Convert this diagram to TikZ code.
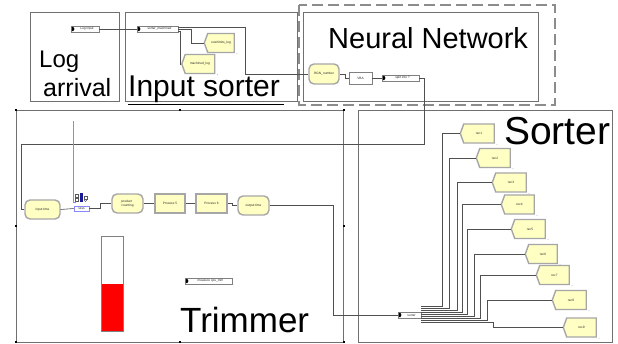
\documentclass[tikz,border=0pt]{standalone}
\usepackage{fontspec}
\setmainfont{Liberation Sans}
\usetikzlibrary{shapes.symbols}
\definecolor{modfill}{HTML}{FFFFC4}
\definecolor{modedge}{HTML}{A6A6A6}
\definecolor{wirec}{HTML}{505050}
\definecolor{framec}{HTML}{707070}
\definecolor{dashc}{HTML}{8C8C8C}
\definecolor{qblue}{HTML}{8888FF}
\definecolor{rblue}{HTML}{1A1A9A}
\tikzset{
  frame/.style={draw=framec, line width=0.7pt},
  wire/.style={draw=wirec, line width=0.6pt},
  tinytxt/.style={font=\fontsize{3.2}{3.8}\selectfont, text=black!85},
  procbox/.style={draw=modedge, fill=modfill, line width=1.4pt, minimum height=19pt, inner sep=0pt, tinytxt},
  roundbox/.style={procbox, rounded corners=5pt},
  sinkbox/.style={draw=modedge, fill=modfill, line width=1.4pt, minimum height=19pt, inner sep=0.5pt, tinytxt,
    shape=signal, signal to=west, signal from=nowhere, signal pointer angle=140},
  crbox/.style={draw=gray, fill=white, line width=0.5pt, minimum height=6pt, inner sep=0pt, tinytxt},
  plainbox/.style={draw=gray, fill=white, line width=0.5pt, inner sep=0pt, tinytxt},
  bigtxt/.style={anchor=base west, inner sep=0pt, text=black},
  handle/.style={fill=black}
}
\begin{document}
\begin{tikzpicture}[x=1pt,y=-1pt]
\useasboundingbox (0,0) rectangle (618,344);
\fill[white] (0,0) rectangle (618,344);

% frames
\draw[frame] (30,12) rectangle (119,101);
\draw[frame] (125,12) rectangle (297,101);
\draw[black, line width=0.8pt] (128,104) -- (284,104);
\draw[frame] (303,12) rectangle (538,101);
\draw[draw=dashc, line width=2.8pt, dash pattern=on 11pt off 5pt] (299,5) rectangle (555,105);
\draw[frame] (16,110) rectangle (343,342);
\draw[frame] (358,110) rectangle (612,342);

% big labels
\node[bigtxt, font=\fontsize{24}{24}\selectfont] (tlog) at (39,68) {Log};
\node[bigtxt, font=\fontsize{25}{25}\selectfont] (tarr) at (43,97) {arrival};
\node[bigtxt, font=\fontsize{30}{30}\selectfont] (tin) at (128,97) {Input sorter};
\node[bigtxt, font=\fontsize{29}{29}\selectfont] (tnn) at (328,49) {Neural Network};
\node[bigtxt, font=\fontsize{35}{35}\selectfont] (ttr) at (180,333) {Trimmer};
\node[bigtxt, font=\fontsize{39}{39}\selectfont] (tso) at (504,145) {Sorter};

% top modules
\node[crbox, minimum width=28pt] (login) at (85,29) {\hspace*{4pt}Log input\hfill};
\node[crbox, minimum width=41pt] (sm) at (157.5,29) {\hspace*{4pt}sorter\_machined};
\node[sinkbox, minimum width=30pt] (ol) at (221,43) {overlimits\_log};
\node[sinkbox, minimum width=33pt] (ml) at (200,64) {machined\_log};
\node[roundbox, minimum width=30pt, minimum height=20pt] (rgn) at (324,74) {RGN\_number};
\node[plainbox, minimum width=23pt, minimum height=12pt] (vba) at (360.5,78) {VBA};
\node[crbox, minimum width=37pt] (split) at (400.5,78) {\hspace*{4pt}split into ?};

\draw[wire] (login.east) -- (sm.west);
\draw[wire] ([yshift=2pt]sm.east) -- (245,27) |- (rgn.west);
\draw[wire] (sm.east) -- (191,29) |- (ol.west);
\draw[wire] ([yshift=-2pt]sm.east) -- (180,31) |- (ml.west);
\draw[wire] (rgn.east) -- (345,74) |- (vba.west);
\draw[wire] (vba.east) -- (split.west);

% trimmer modules
\node[roundbox, minimum width=35pt] (intime) at (42.5,209.5) {input time};
\node[draw=qblue, fill=white, line width=0.7pt, minimum width=15pt, minimum height=5pt, inner sep=0pt, tinytxt] (seize) at (81.5,208.5) {ssss};
\node[roundbox, minimum width=31pt, align=left] (pc) at (127.5,203.5) {product\\counting};
\node[procbox, minimum width=30pt] (p5) at (170,203.5) {Process 5};
\node[procbox, minimum width=31pt] (p6) at (211.5,203.5) {Process 6};
\node[roundbox, minimum width=31pt] (ot) at (253.5,205.5) {output time};
\node[crbox, minimum width=47pt] (meas) at (208.5,281) {\hspace*{4pt}measure cpu\_trim};
\node[crbox, minimum width=23pt] (sorter) at (409.5,315) {\hspace*{4pt}sorter\hfill};

\draw[wire] (split.east) -- (424,78) -- (424,144) -- (21,144) |- (intime.west);
\draw[wire] (intime.east) -- (seize.west);
\draw[wire] (seize.east) -- ++(11,0) |- (pc.west);
\draw[wire] (pc) -- (p5);
\draw[wire] (p5) -- (p6);
\draw[wire] (p6.east) -- ++(5,0) |- (ot.west);
\draw[wire] (ot.east) -- (333,205.5) |- (sorter.west);

% resource / queue animation
\draw[qblue, line width=0.8pt] (73,121) -- (73,202) -- (76,202);
\fill[rblue] (80,193) rectangle (83,202);
\draw[gray!70!black, line width=0.4pt] (75,194) rectangle (78,197);
\draw[gray!70!black, line width=0.4pt] (75,198) rectangle (78,201);
\draw[gray!70!black, line width=0.4pt] (84,196) rectangle (87,199);
\draw[gray!70!black, line width=0.4pt] (85.5,200.5) circle (1.2pt);

% level bar
\fill[red] (101,284) rectangle (123,331);
\draw[gray, line width=0.6pt] (101,236) rectangle (123,331);

% create icons
\foreach \n in {login,sm,split,meas,sorter}
  \fill[black] ([xshift=1.2pt]\n.west) ++(0,-2.2) -- ++(1.3,0) -- ++(1.2,2.2) -- ++(-1.2,2.2) -- ++(-1.3,0) -- cycle;

% sorter sinks
\foreach \i/\cx/\cy/\w in {1/479/133.5/34,2/495/158/34,3/511/182.5/34,4/519.5/204.5/33,5/530/229/34,6/543/254/32,7/554.5/275/33,8/571/300/34,9/581.5/327.5/33}{
  \node[sinkbox, minimum width=\w pt] (rec\i) at (\cx,\cy) {rec\i};
  \fill[gray] ([xshift=2pt,yshift=-2pt]rec\i.south east) circle (0.4pt);
}
\foreach \n in {ol,ml}
  \fill[gray] ([xshift=2pt,yshift=-2pt]\n.south east) circle (0.4pt);

\foreach \i/\vx/\ys in {1/442/9,2/449/7,3/457/5,4/462/3,5/467/1,6/474/-1,7/480/-3,8/487/-5,9/493/-7}{
  \coordinate (v\i) at (\vx,0);
  \draw[wire] ([yshift=\ys pt]sorter.east) -| (rec\i.west -| v\i) -- (rec\i.west);
}

% selection handles
\foreach \x in {16,180,344}
  \foreach \y in {110,226,342}
    \fill[handle] (\x-1.2,\y-1.2) rectangle (\x+1.2,\y+1.2);
\fill[white] (178.5,224.5) rectangle (181.5,227.5);
\end{tikzpicture}
\end{document}
